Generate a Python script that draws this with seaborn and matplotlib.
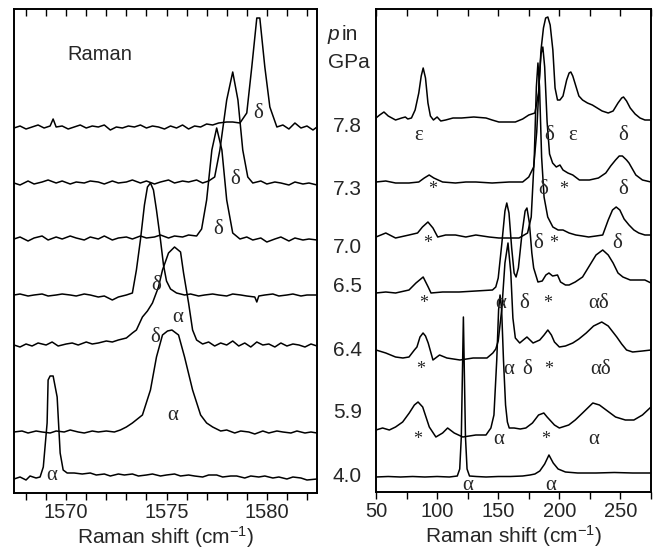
import numpy as np
import pandas as pd
import matplotlib
matplotlib.use('Agg')
import matplotlib.pyplot as plt
import seaborn as sns
from matplotlib.ticker import MultipleLocator, NullFormatter

# pressures (GPa), bottom to top
pressures = ['4.0', '5.9', '6.4', '6.5', '7.0', '7.3', '7.8']

# ---- left panel: G band region (cm-1), signal above each baseline ----
left_offsets = [14, 61, 148, 198, 254, 310, 365]

left_x_40 = [1567.4, 1567.7, 1568.0, 1568.2, 1568.5, 1568.7, 1568.86, 1569.05, 1569.1, 1569.2, 1569.35,
             1569.55, 1569.7, 1569.85, 1570.05, 1570.4, 1570.8, 1571.2, 1571.5, 1571.9, 1572.2, 1572.6,
             1572.9, 1573.3, 1573.6, 1574.0, 1574.3, 1574.7, 1575.0, 1575.4, 1575.7, 1576.1, 1576.4,
             1576.8, 1577.1, 1577.5, 1577.8, 1578.2, 1578.5, 1578.9, 1579.2, 1579.6, 1579.9, 1580.3,
             1580.6, 1581.0, 1581.3, 1581.7, 1582.0, 1582.5]
left_y_40 = [0, 2, -1, 3, 1, 2, 12, 56, 99, 103, 103, 82, 26, 9, 6, 6, 5, 6, 4, 5, 3, 5, 4, 5, 3, 4, 5,
             3, 4, 5, 3, 4, 3, 2, 4, 4, 2, 3, 3, 1, 3, 2, 3, 1, 2, 0, 2, 1, -1, 0]

left_x_59 = [1567.4, 1567.8, 1568.1, 1568.5, 1568.8, 1569.2, 1569.5, 1569.9, 1570.2, 1570.6, 1570.9,
             1571.3, 1571.6, 1572.0, 1572.4, 1572.7, 1573.0, 1573.3, 1573.8, 1574.2, 1574.5, 1574.8,
             1575.05, 1575.27, 1575.6, 1575.9, 1576.3, 1576.7, 1577.0, 1577.3, 1577.7, 1578.0, 1578.4,
             1578.7, 1579.1, 1579.4, 1579.8, 1580.1, 1580.5, 1580.8, 1581.2, 1581.5, 1581.9, 1582.2, 1582.5]
left_y_59 = [0, 1, -1, 1, 0, -1, 1, 0, 2, 0, -1, 1, 0, 1, 0, 2, 5, 9, 17, 42, 75, 97, 101, 102, 97, 75,
             42, 17, 9, 5, 1, 2, -1, 1, 0, -2, 1, -1, 1, 0, -1, 1, -1, 0, -1]

left_x_64 = [1567.4, 1567.7, 1568.0, 1568.3, 1568.6, 1569.0, 1569.3, 1569.6, 1570.0, 1570.3, 1570.6,
             1571.0, 1571.3, 1571.6, 1572.0, 1572.3, 1572.6, 1573.0, 1573.3, 1573.5, 1573.8, 1574.05,
             1574.3, 1574.6, 1574.8, 1575.1, 1575.4, 1575.7, 1575.85, 1576.1, 1576.3, 1576.5, 1576.8,
             1577.1, 1577.4, 1577.7, 1578.0, 1578.3, 1578.6, 1578.9, 1579.2, 1579.5, 1579.8, 1580.1,
             1580.4, 1580.7, 1581.0, 1581.3, 1581.6, 1581.9, 1582.2, 1582.5]
left_y_64 = [0, -2, 1, -1, 2, 0, 3, -1, 1, 2, 0, 3, 1, 2, 4, 3, 5, 7, 12, 15, 28, 34, 42, 58, 75, 92, 98,
             93, 72, 42, 15, 5, 1, 3, -1, 2, 0, 4, -1, 2, -2, 3, 0, 1, -2, 2, -1, 1, 0, -2, 1, -1]

left_x_65 = [1567.4, 1567.7, 1568.1, 1568.4, 1568.8, 1569.1, 1569.5, 1569.8, 1570.2, 1570.5, 1570.9,
             1571.2, 1571.6, 1571.9, 1572.3, 1572.6, 1573.0, 1573.3, 1573.5, 1573.7, 1573.9, 1574.05,
             1574.2, 1574.35, 1574.5, 1574.7, 1574.85, 1575.0, 1575.2, 1575.5, 1575.9, 1576.2, 1576.6,
             1576.9, 1577.3, 1577.6, 1578.0, 1578.3, 1578.7, 1579.0, 1579.4, 1579.5, 1579.6, 1579.9,
             1580.3, 1580.6, 1581.0, 1581.3, 1581.7, 1582.0, 1582.5]
left_y_65 = [0, 1, -1, 0, 1, -1, 0, 1, 0, -1, 1, 0, -2, -1, -5, -2, 0, 2, 25, 55, 90, 108, 112, 105, 85,
             55, 30, 14, 6, 2, 0, 1, -1, 0, 1, 0, -1, 1, 0, -1, -2, -7, -1, 0, 1, -1, 0, 1, -1, 0, 0]

left_x_70 = [1567.4, 1567.7, 1568.1, 1568.4, 1568.8, 1569.1, 1569.5, 1569.8, 1570.2, 1570.5, 1570.9,
             1571.2, 1571.6, 1571.9, 1572.3, 1572.6, 1573.0, 1573.3, 1573.7, 1574.0, 1574.4, 1574.7,
             1575.1, 1575.4, 1575.8, 1576.1, 1576.5, 1576.75, 1577.0, 1577.26, 1577.5, 1577.76, 1578.0,
             1578.3, 1578.66, 1579.0, 1579.3, 1579.7, 1580.0, 1580.4, 1580.7, 1581.1, 1581.4, 1581.8,
             1582.1, 1582.5]
left_y_70 = [0, 2, -2, 1, 3, -1, 2, 0, 3, 1, -1, 2, 0, 3, -1, 1, 2, 0, 3, 1, 2, 4, 1, 3, 2, 4, 3, 10, 39,
             89, 111, 89, 39, 6, 0, 2, -1, 1, -3, 0, 2, -2, 1, -1, 0, -1]

left_x_73 = [1567.4, 1567.7, 1568.1, 1568.4, 1568.8, 1569.1, 1569.5, 1569.8, 1570.2, 1570.5, 1570.9,
             1571.2, 1571.6, 1571.9, 1572.3, 1572.6, 1573.0, 1573.3, 1573.7, 1574.0, 1574.4, 1574.7,
             1575.1, 1575.4, 1575.8, 1576.1, 1576.5, 1576.8, 1577.1, 1577.4, 1577.66, 1578.0, 1578.3,
             1578.56, 1578.8, 1579.05, 1579.3, 1579.7, 1580.0, 1580.4, 1580.7, 1581.1, 1581.4, 1581.8,
             1582.1, 1582.5]
left_y_73 = [0, -2, 2, -1, 1, 3, 0, 2, -1, 1, 0, 2, 1, -1, 2, 0, 1, 3, 0, 2, -1, 1, 3, 0, 2, 1, 3, 0, 2,
             6, 33, 83, 111, 83, 33, 6, 0, 2, -1, 1, 0, -2, 1, -1, 0, -2]

left_x_78 = [1567.4, 1567.7, 1568.0, 1568.3, 1568.6, 1568.9, 1569.2, 1569.35, 1569.5, 1569.8, 1570.1,
             1570.4, 1570.7, 1571.0, 1571.3, 1571.6, 1571.9, 1572.2, 1572.5, 1572.8, 1573.1, 1573.4,
             1573.7, 1574.0, 1574.3, 1574.6, 1574.9, 1575.2, 1575.5, 1575.8, 1576.1, 1576.4, 1576.7,
             1577.0, 1577.3, 1577.6, 1578.0, 1578.3, 1578.66, 1579.0, 1579.25, 1579.5, 1579.65, 1579.9,
             1580.15, 1580.5, 1580.8, 1581.1, 1581.4, 1581.7, 1582.0, 1582.3, 1582.5]
left_y_78 = [0, 2, -1, 1, 3, 0, 2, 9, 1, 2, -1, 1, 3, 0, 2, 1, 3, -2, 1, 0, 2, 1, 3, 0, 2, 1, -1, 2, 0,
             3, -1, 2, 1, 4, 3, 5, 6, 6, 5, 15, 61, 110, 110, 61, 21, 1, 3, -1, 5, 0, 2, -2, 1]

# ---- right panel: low frequency region (cm-1) ----
right_offsets = [15, 62, 139, 199, 255, 310, 374]

right_x_40 = [50, 60, 70, 80, 90, 100, 110, 116.5, 118.5, 119.8, 120.8, 121.5, 122.2, 123.2, 124.5, 126.5,
              132, 140, 150, 160, 170, 176, 180, 184, 188, 191.5, 195, 199, 205, 215, 230, 245, 260, 275]
right_y_40 = [0, 0.5, 0, 0.5, 0, 0.5, 0, 1, 8, 40, 110, 160, 110, 40, 8, 1, 0.5, 0, 0.5, 0.5, 1, 2, 3, 6,
              13, 22, 14, 8, 5, 4, 4, 4.5, 4, 4]

right_x_59 = [50, 55.4, 60.9, 66, 71.8, 77.2, 81.4, 84.4, 88.2, 93.6, 99, 104.5, 108.6, 114, 121, 131.7,
              140, 144, 146.5, 148.8, 150.3, 151.5, 152.8, 154.3, 156, 157.5, 159, 163, 168, 172.6, 178,
              183, 187.3, 190, 196, 200, 207.7, 213, 219, 227.4, 232.8, 238.3, 246, 254, 261, 268, 275]
right_y_59 = [0, 2, 0, 3, 8, 17, 25, 28, 23, 3, -7, -3, 2, -3, -7, -5, -5, 2, 15, 70, 120, 135, 120, 70,
              25, 8, 2, 2, 1, 2, 7, 15, 17, 13, 5, 2, 5, 10, 17, 27, 25, 20, 13, 10, 10, 15, 23]

right_x_64 = [50, 58, 66, 72, 77, 81.4, 83.5, 86, 88.5, 90.5, 92.7, 96.6, 102, 108, 118.7, 129.5, 140.8,
              145.6, 148, 150, 153, 155.5, 158, 160.3, 162, 164, 167.6, 170.5, 173.5, 176, 178.5, 184,
              187.5, 190.6, 193.5, 196, 200, 205, 211, 216, 222, 228, 234.7, 240, 247, 251, 255, 260, 268, 275]
right_y_64 = [3, 0, -4, -5, -4, 3, 6, 16, 20, 17, 10, -7, -2, -5, -7, -5, -5, 0, 4, 12, 45, 90, 110, 80,
              35, 15, 10, 13, 16, 13, 10, 13, 18, 23, 18, 11, 6, 7, 10, 14, 20, 27, 31, 27, 16, 9, 3, 1, 2, 3]

right_x_65 = [50, 58, 66, 77, 82.7, 88.6, 92.7, 95, 104.5, 118, 131.7, 145.3, 148, 150, 153, 155.5, 157,
              158.8, 161, 163, 164.6, 166.5, 169.5, 172, 173.5, 175.5, 177.5, 179, 182.5, 186, 189, 191.5,
              194.5, 198.5, 201, 205, 208, 213, 219, 225, 230, 235.5, 240, 244, 248, 252, 258, 264, 270, 275]
right_y_65 = [0, 1, 0, 3, 10, 16, 6, 0, 1, 1, 2, 3, 6, 15, 50, 82, 90, 80, 45, 20, 16, 25, 60, 82, 85, 70,
              40, 25, 11, 12, 18, 20, 17, 18, 11, 8, 8, 11, 16, 28, 38, 43, 38, 30, 20, 16, 13, 13, 13, 10]

right_x_70 = [50, 58, 66, 77, 84, 88, 92.5, 96.6, 100.5, 107, 115, 123.5, 131.7, 142.6, 150.5, 159, 167,
              174, 177, 179.5, 181.2, 182.5, 183.8, 185.5, 187.5, 190.5, 194.7, 199, 203, 208, 213.5, 219,
              224, 230, 235.5, 240, 243.5, 246.5, 249.5, 253, 257, 261, 265, 270, 275]
right_y_70 = [0, 4, -1, 2, 4, 10, 15, 9, 0, 2, 2, 0, 2, 0, -1, -1, -1, 4, 20, 80, 150, 174, 150, 80, 40,
              20, 10, 7, 7, 4, 2, 1, 0, 1, 2, 17, 27, 30, 27, 18, 12, 7, 4, 2, 2]

right_x_73 = [50, 58, 66, 77, 85, 89.5, 93.5, 97.3, 104.5, 115, 123.5, 131.7, 145, 159, 170, 175, 179,
              181.5, 183.5, 185, 186.5, 188, 190, 192, 194.5, 197.5, 200.5, 203, 207, 211, 216.4, 224.6,
              232, 238, 242, 246, 249, 251.6, 255, 257, 262.6, 268, 275]
right_y_73 = [0, 1, -1, -1, 0, 4, 7, 4, 0, -1, 0, 0, -1, 0, 0, 5, 15, 50, 100, 128, 135, 115, 60, 28, 19,
              15, 17, 12, 9, 7, 2, 2, 4, 9, 16, 22, 26, 26, 22, 19, 7, 2, 0]

right_x_78 = [50, 53, 56.5, 60, 66, 71, 74, 76, 79, 82, 85, 87, 88.6, 90.5, 92.5, 94.5, 97, 100, 103, 107,
              113, 120, 130, 140, 145, 150.5, 157, 164, 170, 175, 180, 183, 185, 187, 188.8, 190.6, 192.5,
              194.7, 196.5, 198.5, 200.5, 203, 206, 208, 209.4, 211, 213.5, 216, 219, 223, 227, 231, 235,
              240, 244, 248, 251, 252.5, 255, 258, 262, 266, 270, 275]
right_y_78 = [0, 3, 6, 2, -2, 0, 1, -1, 0, 8, 25, 42, 50, 40, 15, 2, -2, 1, -3, -2, 0, 0, 1, 0, -2, -4,
              -4, -4, -1, 3, 5, 25, 68, 90, 100, 101, 93, 68, 30, 18, 18, 22, 38, 45, 46, 42, 32, 22, 18,
              15, 13, 10, 7, 5, 7, 15, 20, 21, 17, 10, 4, 0, -2, -2]

left_xs = [left_x_40, left_x_59, left_x_64, left_x_65, left_x_70, left_x_73, left_x_78]
left_ys = [left_y_40, left_y_59, left_y_64, left_y_65, left_y_70, left_y_73, left_y_78]
right_xs = [right_x_40, right_x_59, right_x_64, right_x_65, right_x_70, right_x_73, right_x_78]
right_ys = [right_y_40, right_y_59, right_y_64, right_y_65, right_y_70, right_y_73, right_y_78]

# peak assignments: (shift, height, text)
left_marks = [(1579.55, 380, 'δ'), (1578.4, 313, 'δ'), (1577.56, 263, 'δ'), (1574.5, 208, 'δ'),
              (1575.57, 176, 'α'), (1574.43, 155, 'δ'), (1575.32, 78, 'α'), (1569.3, 18, 'α')]
right_marks = [(85, 357, 'ε'), (191.5, 357, 'δ'), (211, 357, 'ε'), (252, 357, 'δ'),
               (96.6, 302, '*'), (186.5, 302, 'δ'), (203.6, 302, '*'), (252, 302, 'δ'),
               (92.5, 249, '*'), (182.5, 249, 'δ'), (195.5, 249, '*'), (247.6, 249, 'δ'),
               (89, 189, '*'), (152, 189, 'α'), (171, 189, 'δ'), (190.5, 189, '*'), (232, 189, 'αδ'),
               (86.7, 122, '*'), (158.7, 122, 'α'), (174, 122, 'δ'), (191.5, 122, '*'), (234, 122, 'αδ'),
               (84.4, 52, '*'), (150.6, 52, 'α'), (189, 52, '*'), (228, 52, 'α'),
               (125, 7, 'α'), (193, 7, 'α')]
# pressure label heights (pixels from top)
label_rows = [477, 413, 350, 287, 248, 190, 127]


def stack(xs, ys, offsets):
    frames = []
    for p, x, y, off in zip(pressures, xs, ys, offsets):
        frames.append(pd.DataFrame({'shift': x, 'signal': np.array(y, float) + off, 'p': p}))
    return pd.concat(frames, ignore_index=True)


sns.set_style('ticks')
plt.rcParams['font.family'] = ['Liberation Sans', 'DejaVu Sans']
plt.rcParams['mathtext.fontset'] = 'custom'
plt.rcParams['mathtext.rm'] = 'Liberation Sans'
plt.rcParams['mathtext.default'] = 'regular'

W, H = 656, 557
fig = plt.figure(figsize=(W / 100, H / 100), dpi=100)
axL = fig.add_axes([14 / W, 64 / H, 303 / W, 484 / H])
axR = fig.add_axes([376 / W, 65 / H, 275 / W, 483 / H])

panels = [
    (axL, stack(left_xs, left_ys, left_offsets), (1567.4, 1582.5), 5, 1, 484, left_marks),
    (axR, stack(right_xs, right_ys, right_offsets), (50, 275), 50, 25, 483, right_marks),
]

serif = ['Liberation Serif', 'DejaVu Serif']
for ax, df, xlim, major, minor, ytop, marks in panels:
    sns.lineplot(data=df, x='shift', y='signal', units='p', estimator=None, sort=False,
                 color='black', lw=1.1, ax=ax)
    ax.set_xlim(*xlim)
    ax.set_ylim(0, ytop)
    ax.set_yticks([])
    ax.set_ylabel('')
    ax.xaxis.set_major_locator(MultipleLocator(major))
    ax.xaxis.set_minor_locator(MultipleLocator(minor))
    ax.tick_params(axis='x', which='both', direction='out', length=5, width=1,
                   labelsize=14.5, pad=2, color='black', top=False, bottom=True)
    # inward ticks along the top edge
    top = ax.twiny()
    top.set_xlim(*xlim)
    top.xaxis.set_major_locator(MultipleLocator(minor))
    top.xaxis.set_major_formatter(NullFormatter())
    top.tick_params(axis='x', which='both', direction='in', length=5, width=1, color='black',
                    top=True, bottom=False, labeltop=False, labelbottom=False)
    top.set_yticks([])
    for s in list(ax.spines.values()) + list(top.spines.values()):
        s.set_linewidth(1.2)
        s.set_color('black')
    ax.set_xlabel('Raman shift (cm$^{-1}$)', fontsize=15, labelpad=2)
    for x, y, t in marks:
        size = 13 if t == '*' else 15
        ax.text(x, y, t, ha='center', va='center', fontsize=size, family=serif)

axL.text(1570.05, 438, 'Raman', ha='left', va='center', fontsize=14.5)

fig.text(328 / W, 1 - 35 / H, 'p', style='italic', fontsize=15, va='center', ha='left')
fig.text(342 / W, 1 - 35 / H, 'in', fontsize=15, va='center', ha='left')
fig.text(328 / W, 1 - 63 / H, 'GPa', fontsize=15, va='center', ha='left')
for p, yp in zip(pressures, label_rows):
    fig.text(333 / W, 1 - yp / H, p, fontsize=15, va='center', ha='left')

fig.savefig('out.png', dpi=100)
